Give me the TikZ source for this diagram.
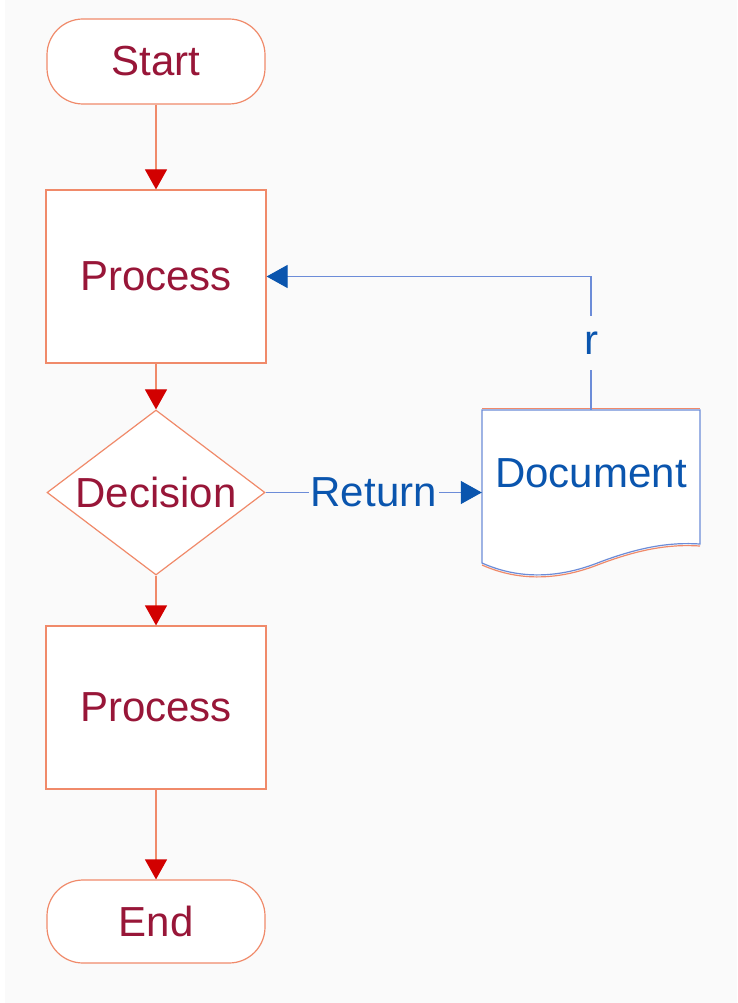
\documentclass[tikz,border=0pt]{standalone}
\usepackage{fontspec}
\setmainfont{Liberation Sans}
\usetikzlibrary{arrows.meta,shapes.geometric}
\definecolor{bord}{HTML}{F08A6A}
\definecolor{txtred}{HTML}{981638}
\definecolor{arred}{HTML}{D20000}
\definecolor{bline}{HTML}{6C8CD8}
\definecolor{btxt}{HTML}{0A55AE}
\definecolor{bgc}{HTML}{FAFAFA}
\tikzset{
  shp/.style={draw=bord, line width=1.2pt, fill=white, text=txtred, inner sep=0pt},
  term/.style={shp, rounded corners=36pt, minimum width=218pt},
  proc/.style={shp, minimum width=220pt},
  dec/.style={shp, diamond, aspect=1.32, minimum width=218pt, minimum height=165pt},
  flow/.style={draw=bord, line width=1.2pt, -{Triangle[length=20pt,width=22pt,color=arred]}},
  bflow/.style={draw=bline, line width=1.2pt, -{Triangle[length=21pt,width=23pt,color=btxt]}},
  blab/.style={fill=bgc, text=btxt, inner ysep=0pt, inner xsep=2pt}
}
\begin{document}
\begin{tikzpicture}[x=1pt,y=-1pt,font=\fontsize{42}{48}\selectfont]
\useasboundingbox (0,0) rectangle (737,1003);
\fill[white] (0,0) rectangle (737,1003);
\fill[bgc] (5,0) rectangle (737,1003);

\node[term, minimum height=85pt] (start) at (156,61.5) {Start};
\node[proc, minimum height=173pt] (p1) at (156,276.5) {Process};
\node[dec] (dec) at (156,492.5) {Decision};
\node[proc, minimum height=163pt] (p2) at (156,707.5) {Process};
\node[term, minimum height=83pt] (end) at (156,921.5) {End};

% document
\node[minimum width=218pt, minimum height=165pt, inner sep=0pt] (doc) at (591,492.5) {};
\fill[white] (482,410) -- (700,410) -- (700,544)
  .. controls (670,542) and (640,547) .. (600,562)
  .. controls (560,578) and (520,580) .. (482,563) -- cycle;
\draw[bord, line width=1.2pt] (482,408.5) -- (700,408.5);
\draw[bord, line width=1.2pt] (700,546)
  .. controls (670,544) and (640,549) .. (600,564)
  .. controls (560,580) and (520,582) .. (482,565);
\draw[bline, line width=1.2pt] (482,410) -- (700,410) -- (700,544)
  .. controls (670,542) and (640,547) .. (600,562)
  .. controls (560,578) and (520,580) .. (482,563) -- cycle;
\node[text=btxt] (doctext) at (591,473) {Document};

\draw[flow] (start) -- (p1);
\draw[flow] (p1) -- (dec);
\draw[flow] (dec) -- (p2);
\draw[flow] (p2) -- (end);

\draw[bflow] (dec.east) -- node[blab] {Return} (doc.west);
\draw[bflow] (doc.north) |- node[pos=0.25, blab, minimum height=54pt] {r} (p1.east);
\end{tikzpicture}
\end{document}
